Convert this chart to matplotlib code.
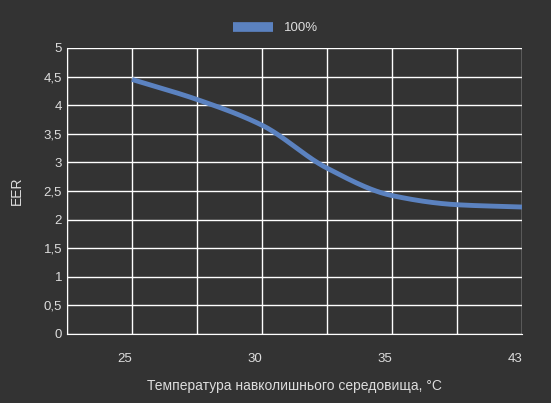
import matplotlib
matplotlib.use("Agg")
import matplotlib.pyplot as plt
import numpy as np

plt.rcParams['font.family'] = ['Liberation Sans', 'DejaVu Sans']

categories = ["25", "30", "35", "43"]
x_pos = [0, 0.5, 1, 1.5, 2, 2.5, 3]
eer = [4.45, 4.1, 3.65, 2.9, 2.42, 2.26, 2.22]
y_ticks = [0, 0.5, 1, 1.5, 2, 2.5, 3, 3.5, 4, 4.5, 5]
y_labels = ["0", "0,5", "1", "1,5", "2", "2,5", "3", "3,5", "4", "4,5", "5"]

def pchip(x, y, xs):
    x = np.asarray(x, float); y = np.asarray(y, float)
    h = np.diff(x); d = np.diff(y) / h
    m = np.zeros_like(y)
    m[0], m[-1] = d[0], d[-1]
    for i in range(1, len(y) - 1):
        if d[i-1] * d[i] > 0:
            w1 = 2*h[i] + h[i-1]; w2 = h[i] + 2*h[i-1]
            m[i] = (w1 + w2) / (w1/d[i-1] + w2/d[i])
    out = []
    for t in xs:
        i = min(np.searchsorted(x, t, side="right") - 1, len(x) - 2)
        s = (t - x[i]) / h[i]
        h00 = 2*s**3 - 3*s**2 + 1; h10 = s**3 - 2*s**2 + s
        h01 = -2*s**3 + 3*s**2; h11 = s**3 - s**2
        out.append(h00*y[i] + h10*h[i]*m[i] + h01*y[i+1] + h11*h[i]*m[i+1])
    return np.array(out)

bg = "#333333"
fig = plt.figure(figsize=(5.51, 4.03), dpi=100, facecolor=bg)
ax = fig.add_axes([67/551, 1-334/403, (522-67)/551, (334-48)/403], facecolor=bg)

xs = np.linspace(x_pos[0], x_pos[-1], 300)
ax.plot(xs, pchip(x_pos, eer, xs), color="#5b82c0", lw=3.5, solid_capstyle="butt", label="100%")

ax.set_xlim(-0.5, 3)
ax.set_ylim(0, 5)
ax.set_xticks(np.arange(-0.5, 3.01, 0.5), minor=True)
ax.set_xticks([0, 1, 2, 3])
ax.set_xticklabels(categories)
ax.set_yticks(y_ticks)
ax.set_yticklabels(y_labels)
ax.grid(True, which="both", axis="x", color="white", lw=1)
ax.grid(True, axis="y", color="white", lw=1)
ax.set_axisbelow(True)
for s in ax.spines.values():
    s.set_visible(False)
ax.spines["left"].set_visible(True); ax.spines["left"].set_color("white")
ax.spines["bottom"].set_visible(True); ax.spines["bottom"].set_color("white")
ax.tick_params(which="both", length=0, colors="#dddddd", labelsize=9.5)
ax.tick_params(axis="x", pad=14)
for lbl in ax.get_xticklabels():
    lbl.set_horizontalalignment("right")
    lbl.set_x(lbl.get_position()[0])
ax.set_xlabel("Температура навколишнього середовища, °C", color="#dddddd", fontsize=10, labelpad=10)
ax.set_ylabel("EER", color="#dddddd", fontsize=10, labelpad=14)
leg = fig.legend(loc="upper center", bbox_to_anchor=(0.5, 0.975), frameon=False,
                 fontsize=9.5, handlelength=3, labelcolor="#dddddd")
for l in leg.get_lines():
    l.set_linewidth(7)
fig.savefig("out.png", dpi=100, facecolor=bg)
